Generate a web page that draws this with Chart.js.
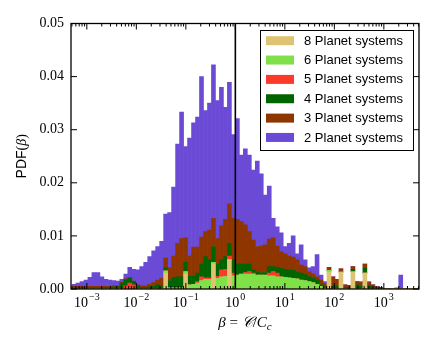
<!DOCTYPE html>
<html>
<head>
<meta charset="utf-8">
<script src="https://cdn.jsdelivr.net/npm/chart.js@4.4.0/dist/chart.umd.min.js"></script>
<style>
  html, body { margin: 0; padding: 0; background: #fff; }
</style>
</head>
<body>
<canvas id="pdfChart" width="436" height="349"></canvas>
<script>
// Histogram bins, in log10(beta)
const binStart = -3.30;
const binWidth = 0.0805;
const nBins = 87;
const logBeta = Array.from({ length: nBins }, (_, i) => binStart + (i + 0.5) * binWidth);

// Stacked PDF values per bin (units of 1e-4)
const UNIT = 1e-4;
const pdf8 = [
  0,0,0,0,0,0,0,0,0,0,  0,0,0,0,0,0,0,0,0,0,  0,0,0,30,0,0,0,0,28,0,
  0,0,0,0,0,47,0,0,0,54,  0,0,0,0,0,0,0,0,0,0,  0,0,0,0,0,0,0,0,0,0,
  0,0,0,0,31,0,0,32,0,0,  31,0,0,30,0,0,0,0,0,0,  0,0,0,0,0,0,0
];
const pdf6 = [
  0,0,0,0,0,0,0,0,0,0,  0,0,0,0,0,0,0,0,0,0,  0,0,0,4,2,2,2,2,5,8,
  9,11,16,18,18,3,20,23,24,2,  25,26,28,28,28,28,26,26,26,25,  25,23,23,22,21,20,19,17,16,14,
  12,9,5,1,4,0,0,0,0,0,  2,0,0,0,0,0,0,0,0,0,  0,0,0,0,0,0,0
];
const pdf5 = [
  0,0,0,0,0,0,0,0,0,0,  0,0,0,6,11,8,0,0,0,0,  0,0,0,0,0,0,0,0,0,0,
  0,3,7,3,3,0,4,13,13,6,  5,0,0,3,5,2,0,0,0,5,  8,7,0,0,0,0,0,0,0,0,
  0,0,0,0,0,0,0,0,0,0,  0,0,0,0,0,0,0,0,0,0,  0,0,0,0,0,0,0
];
const pdf4 = [
  2,2,2,2,2,2,2,2,3,3,  4,4,11,11,9,6,6,3,3,4,  5,8,6,6,14,20,21,21,17,16,
  15,16,25,40,34,30,24,19,24,24,  25,21,20,16,14,6,6,5,5,12,  9,11,16,15,15,15,14,13,11,9,
  8,8,3,3,0,6,5,0,3,3,  4,8,5,9,6,3,1,1,0,0,  0,0,0,0,0,0,0
];
const pdf3 = [
  3,3,3,3,3,3,3,3,2,2,  2,2,2,2,2,1,2,3,3,5,  7,9,14,18,24,40,63,72,47,38,
  55,49,50,47,56,53,47,64,70,75,  78,84,79,74,61,56,48,50,52,52,  55,40,31,29,26,25,22,15,15,10,
  8,6,9,6,6,17,13,6,5,4,  5,6,7,8,6,5,3,2,1,1,  0,0,0,0,0,0,0
];
const pdf2 = [
  4,6,9,12,17,26,26,18,13,12,  10,9,5,9,19,22,28,36,44,52,  60,63,70,83,104,130,187,238,171,222,
  234,245,302,228,239,289,260,261,211,228,  158,190,125,143,144,132,161,136,94,100,  36,36,36,14,24,40,11,38,13,7,
  14,42,9,4,0,0,0,0,0,0,  0,0,2,0,2,0,0,0,0,0,  0,2,26,0,0,0,0
];

const seriesLabels = ['8 Planet systems', '6 Planet systems', '5 Planet systems',
                      '4 Planet systems', '3 Planet systems', '2 Planet systems'];
const seriesValues = [pdf8, pdf6, pdf5, pdf4, pdf3, pdf2];
const seriesColors = ['#e0c273', '#80e048', '#fc3a2a', '#006400', '#8e3500', '#6b4bd5'];

const yTicks = [0, 0.01, 0.02, 0.03, 0.04, 0.05];
const xDecades = [-3, -2, -1, 0, 1, 2, 3];
const xMin = -3.32, xMax = 3.71;

const SERIF = '"Liberation Serif", "DejaVu Serif", serif';
const SANS = '"Liberation Sans", Arial, sans-serif';

// Draws matplotlib-like frame, inward ticks, log tick labels, axis labels and legend
const decorations = {
  id: 'decorations',
  afterDatasetsDraw(chart) {
    const { ctx, chartArea: a, scales: { x } } = chart;
    const px = x.getPixelForValue(0);
    ctx.save();
    ctx.strokeStyle = '#000';
    ctx.lineWidth = 1.6;
    ctx.beginPath();
    ctx.moveTo(px, a.top);
    ctx.lineTo(px, a.bottom);
    ctx.stroke();
    ctx.restore();
  },
  afterDraw(chart) {
    const { ctx, chartArea: a, scales: { x, y } } = chart;
    ctx.save();
    ctx.strokeStyle = '#000';
    ctx.fillStyle = '#000';

    // ticks
    ctx.lineWidth = 1;
    ctx.beginPath();
    xDecades.concat([-4]).forEach(d => {
      for (let k = 1; k <= 9; k++) {
        const v = d + Math.log10(k);
        if (v < xMin || v > xMax) continue;
        const p = x.getPixelForValue(v);
        const len = k === 1 ? 6 : 3;
        ctx.moveTo(p, a.bottom); ctx.lineTo(p, a.bottom - len);
        ctx.moveTo(p, a.top); ctx.lineTo(p, a.top + len);
      }
    });
    yTicks.forEach(v => {
      const p = y.getPixelForValue(v);
      ctx.moveTo(a.left, p); ctx.lineTo(a.left + 6, p);
      ctx.moveTo(a.right, p); ctx.lineTo(a.right - 6, p);
    });
    ctx.stroke();

    // frame
    ctx.lineWidth = 1.3;
    ctx.strokeRect(a.left, a.top, a.right - a.left, a.bottom - a.top);

    // x tick labels 10^n
    ctx.textBaseline = 'alphabetic';
    ctx.textAlign = 'left';
    xDecades.forEach(d => {
      const p = x.getPixelForValue(d);
      const base = '10';
      const sup = d < 0 ? '\u2212' + Math.abs(d) : String(d);
      ctx.font = '14px ' + SERIF;
      const wb = ctx.measureText(base).width;
      ctx.font = '10px ' + SERIF;
      const ws = ctx.measureText(sup).width;
      const x0 = p - (wb + ws + 1) / 2;
      ctx.font = '14px ' + SERIF;
      ctx.fillText(base, x0, a.bottom + 17.5);
      ctx.font = '10px ' + SERIF;
      ctx.fillText(sup, x0 + wb + 1, a.bottom + 11);
    });

    // x axis label: beta = C / C_c
    {
      const parts = [
        ['italic 15px ' + SERIF, '\u03B2', 0],
        ['15px ' + SERIF, ' = ', 0],
        ['italic 15px ' + SERIF, '\uD835\uDC9E', 0],
        ['15px ' + SERIF, '/', 0],
        ['italic 15px ' + SERIF, 'C', 0],
        ['italic 11px ' + SERIF, 'c', 3]
      ];
      let total = 0;
      parts.forEach(([f, t]) => { ctx.font = f; total += ctx.measureText(t).width; });
      let cx = (a.left + a.right) / 2 - total / 2;
      parts.forEach(([f, t, dy]) => {
        ctx.font = f;
        ctx.fillText(t, cx, 327 + dy);
        cx += ctx.measureText(t).width;
      });
    }

    // y axis label: PDF(beta)
    {
      ctx.save();
      ctx.translate(26, (a.top + a.bottom) / 2);
      ctx.rotate(-Math.PI / 2);
      const parts = [['14px ' + SANS, 'PDF'], ['14px ' + SERIF, '('], ['italic 14px ' + SERIF, '\u03B2'], ['14px ' + SERIF, ')']];
      let total = 0;
      parts.forEach(([f, t]) => { ctx.font = f; total += ctx.measureText(t).width; });
      let cx = -total / 2;
      parts.forEach(([f, t]) => {
        ctx.font = f;
        ctx.fillText(t, cx, 0);
        cx += ctx.measureText(t).width;
      });
      ctx.restore();
    }

    // legend
    const lx = 260, ly = 30, lw = 153, lh = 120;
    ctx.fillStyle = '#fff';
    ctx.fillRect(lx, ly, lw, lh);
    ctx.lineWidth = 1;
    ctx.strokeStyle = '#000';
    ctx.strokeRect(lx + 0.5, ly + 0.5, lw, lh);
    ctx.font = '13px ' + SANS;
    ctx.textBaseline = 'middle';
    chart.data.datasets.forEach((ds, i) => {
      const cy = ly + 10.7 + i * 19.35;
      ctx.fillStyle = ds.backgroundColor;
      ctx.fillRect(lx + 6, cy - 4.5, 28, 9);
      ctx.fillStyle = '#000';
      ctx.fillText(ds.label, lx + 44, cy + 0.5);
    });
    ctx.restore();
  }
};

new Chart(document.getElementById('pdfChart'), {
  type: 'bar',
  data: {
    datasets: seriesLabels.map((label, s) => ({
      label,
      data: logBeta.map((lb, i) => ({ x: lb, y: seriesValues[s][i] * UNIT })),
      backgroundColor: seriesColors[s],
      borderWidth: 0,
      barPercentage: 1,
      categoryPercentage: 1
    }))
  },
  options: {
    responsive: false,
    animation: false,
    layout: { padding: { left: 0, top: 23.5, right: 17, bottom: 0 } },
    plugins: { legend: { display: false }, tooltip: { enabled: false } },
    scales: {
      x: {
        type: 'linear',
        stacked: true,
        offset: false,
        min: xMin,
        max: xMax,
        grid: { display: false },
        border: { display: false },
        ticks: { display: false },
        afterFit: s => { s.height = 60; }
      },
      y: {
        stacked: true,
        min: 0,
        max: 0.05,
        grid: { display: false, drawTicks: false },
        border: { display: false },
        ticks: {
          stepSize: 0.01,
          padding: 7,
          color: '#000',
          font: { family: SERIF, size: 14 },
          callback: v => v.toFixed(2)
        },
        afterFit: s => { s.width = 71; }
      }
    }
  },
  plugins: [decorations]
});
</script>
</body>
</html>
